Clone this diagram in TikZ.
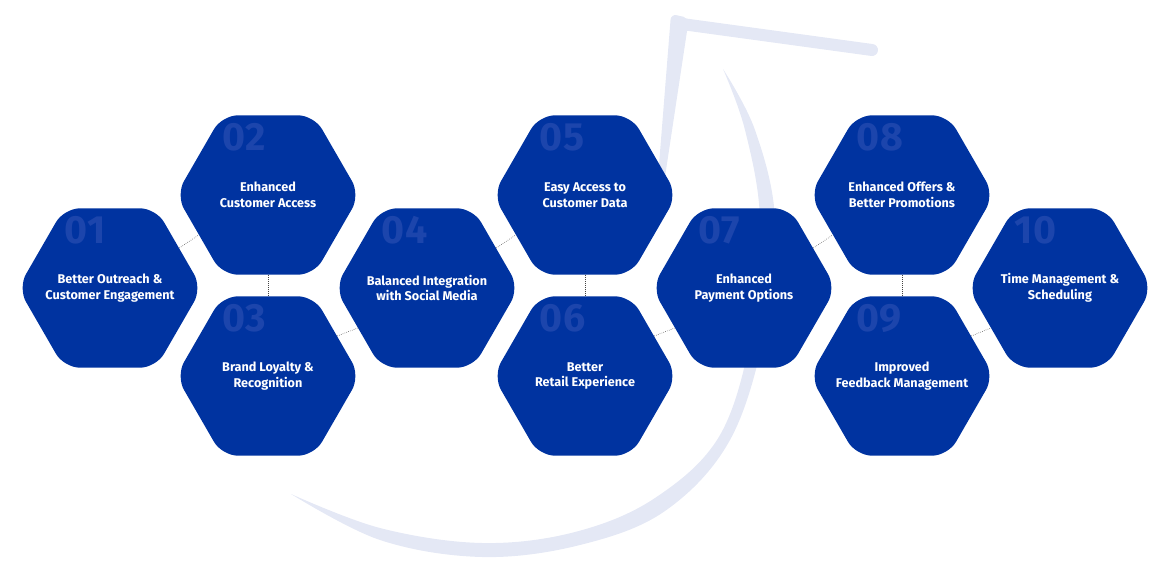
\documentclass[tikz,border=0pt]{standalone}
\usepackage{fontspec}
\setmainfont{Fira Sans}
\definecolor{hexblue}{HTML}{0033A0}
\definecolor{numblue}{HTML}{1C45AC}
\definecolor{swoosh}{HTML}{E4E8F5}
\definecolor{linkgray}{HTML}{444444}
\usetikzlibrary{shapes.geometric, calc}

\begin{document}
\begin{tikzpicture}[x=0.025cm, y=-0.025cm,
    hexbox/.style={regular polygon, regular polygon sides=6, minimum size=4.6cm,
      inner sep=0pt, fill=hexblue, rounded corners=0.4cm},
    hextext/.style={text=white, align=center, font=\bfseries\fontsize{9}{11}\selectfont},
    hexnum/.style={text=numblue, anchor=west, font=\bfseries\fontsize{28}{28}\selectfont},
    link/.style={linkgray, densely dotted, thin}]
        \useasboundingbox (0,0) rectangle (1171,571);
        % Background swoosh
        \fill[swoosh] plot[smooth, tension=0.6] coordinates
          {(291,494) (380,540) (482,557) (580,545) (665,511) (730,440) (765,330) (775,219) (755,130) (723,69)}
          -- plot[smooth, tension=0.6] coordinates
          {(723,69) (745,130) (760,219) (752,330) (720,435) (655,498) (575,532) (482,543) (380,528) (291,494)}
          -- cycle;
        \fill[swoosh, rounded corners=4pt] (671,14) -- (689,18) -- (663,190) -- (657,190) -- cycle;
        \draw[swoosh, line width=0.3cm, line cap=round] (682,24) -- (872,50);
        % Hexagons
        \foreach \n/\x/\y/\txt in {
            01/110/288/{Better Outreach \&\\Customer Engagement},
            02/268/195/{Enhanced\\Customer Access},
            03/268/376/{Brand Loyalty \&\\Recognition},
            04/427/288/{Balanced Integration\\with Social Media},
            05/585/195/{Easy Access to\\Customer Data},
            06/585/376/{Better\\Retail Experience},
            07/744/288/{Enhanced\\Payment Options},
            08/902/195/{Enhanced Offers \&\\Better Promotions},
            09/902/376/{Improved\\Feedback Management},
            10/1060/288/{Time Management \&\\Scheduling}} {
          \node[hexbox] (h\n) at (\x,\y) {};
          \node[hexnum] (n\n) at ($(h\n.center)+(-50,-58)$) {\n};
          \node[hextext] (t\n) at (h\n.center) {\txt};
        }
        % Dotted links
        \draw[link] (h01.30) -- (h02.210);
        \draw[link] (h02.270) -- (h03.90);
        \draw[link] (h03.30) -- (h04.210);
        \draw[link] (h04.30) -- (h05.210);
        \draw[link] (h05.270) -- (h06.90);
        \draw[link] (h06.30) -- (h07.210);
        \draw[link] (h07.30) -- (h08.210);
        \draw[link] (h08.270) -- (h09.90);
        \draw[link] (h09.30) -- (h10.210);
      \end{tikzpicture}
\end{document}
